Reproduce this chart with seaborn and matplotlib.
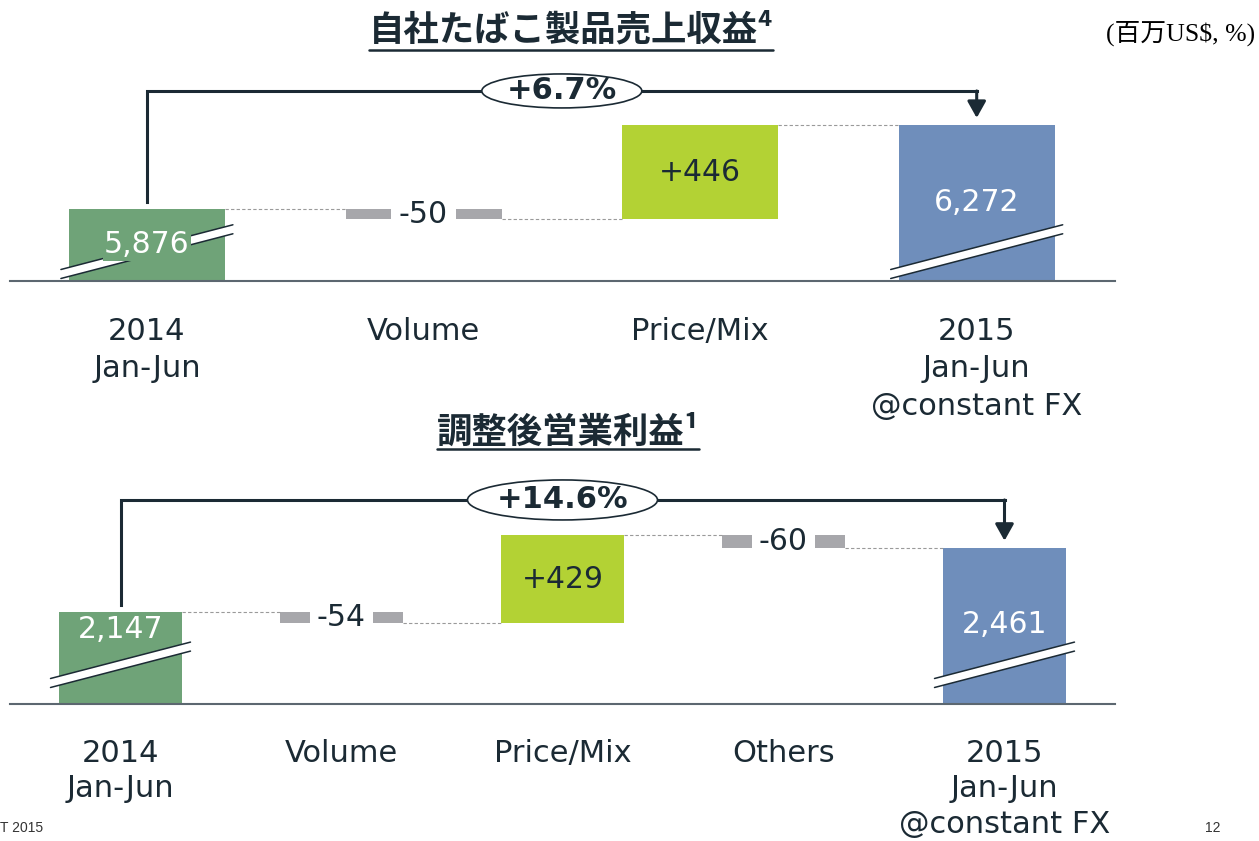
import matplotlib
matplotlib.use('Agg')
import matplotlib.pyplot as plt
from matplotlib.patches import Ellipse, Polygon
from matplotlib.lines import Line2D
import seaborn as sns

# top chart: own tobacco product revenue
top_title = '自社たばこ製品売上収益⁴'
top_categories = ['2014\nJan-Jun', 'Volume', 'Price/Mix', '2015\nJan-Jun\n@constant FX']
top_values = [5876, -50, 446, 6272]
top_kinds = ['total', 'delta', 'delta', 'total']
top_growth = '+6.7%'

# bottom chart: adjusted operating profit
bottom_title = '調整後営業利益¹'
bottom_categories = ['2014\nJan-Jun', 'Volume', 'Price/Mix', 'Others', '2015\nJan-Jun\n@constant FX']
bottom_values = [2147, -54, 429, -60, 2461]
bottom_kinds = ['total', 'delta', 'delta', 'delta', 'total']
bottom_growth = '+14.6%'

unit_label = '(百万US$, %)'
footer_left = 'T 2015'
page_no = '12'

START = '#6fa378'
END = '#6f8ebb'
UP = '#b3d234'
DOWN = '#a7a7ab'
DARK = '#1b2a34'

W, H = 1259, 841
sns.set_style('white')
plt.rcParams['font.family'] = ['DejaVu Sans', 'Noto Sans CJK JP']

fig = plt.figure(figsize=(W / 100, H / 100), dpi=100)


def px_box(left, top, right, bottom):
    return [left / W, 1 - bottom / H, (right - left) / W, (bottom - top) / H]


def draw_break(ax, xc, bar_w, base, sx, sy, lift_px):
    # slanted white band with dark edges, marks the broken axis
    ext = 8 / sx
    x1, x2 = xc - bar_w / 2 - ext, xc + bar_w / 2 + ext
    yl = base + lift_px / sy
    yr = yl + (x2 - x1) * sx * 0.26 / sy
    h = 4.5 / sy
    ax.add_patch(Polygon([(x1, yl - h), (x2, yr - h), (x2, yr + h), (x1, yl + h)],
                         closed=True, facecolor='white', edgecolor='none', zorder=3, clip_on=False))
    for s in (-h, h):
        ax.plot([x1, x2], [yl + s, yr + s], color=DARK, lw=1.1, zorder=3, clip_on=False)


def draw_waterfall(ax, cats, values, kinds, growth, base, top, xlim, bar_w,
                   arrow_frac, ell_px, label_drop_px, lift_px, tick_pad, tick_ls):
    n = len(values)
    bottoms, heights, levels, colors = [], [], [], []
    level = 0
    for i, (v, k) in enumerate(zip(values, kinds)):
        if k == 'total':
            bottoms.append(base)
            heights.append(v - base)
            level = v
            colors.append(START if i == 0 else END)
        else:
            bottoms.append(min(level, level + v))
            heights.append(abs(v))
            level += v
            colors.append(UP if v > 0 else DOWN)
        levels.append(level)

    sns.barplot(x=cats, y=heights, bottom=bottoms, order=cats, color=UP, saturation=1,
                width=bar_w, errorbar=None, linewidth=0, ax=ax)
    for p, c in zip(ax.patches, colors):
        p.set_facecolor(c)

    ax.set_xlim(*xlim)
    ax.set_ylim(base, top)
    ax.set_yticks([])
    ax.set_xlabel('')
    ax.set_ylabel('')
    sns.despine(ax=ax, left=True)
    ax.spines['bottom'].set_color('#5c6770')
    ax.spines['bottom'].set_linewidth(1.5)
    ax.tick_params(axis='x', length=0, pad=tick_pad, labelsize=22, labelcolor=DARK)
    for t in ax.get_xticklabels():
        t.set_linespacing(tick_ls)

    sx = ax.bbox.width / (xlim[1] - xlim[0])
    sy = ax.bbox.height / (top - base)

    # dashed connectors
    for i in range(n - 1):
        ax.plot([i + bar_w / 2, i + 1 - bar_w / 2], [levels[i], levels[i]],
                ls=(0, (3, 2)), color='#9a9a9a', lw=0.8, zorder=1)

    # value labels
    drops = iter(label_drop_px)
    for i, (v, k) in enumerate(zip(values, kinds)):
        if k == 'total':
            y = v - next(drops) / sy
            ax.text(i, y, f'{v:,}', ha='center', va='center', fontsize=21.5, color='white', zorder=6,
                    bbox=dict(boxstyle='square,pad=0.05', fc=colors[i], ec='none'))
            draw_break(ax, i, bar_w, base, sx, sy, lift_px)
        else:
            y = bottoms[i] + heights[i] / 2
            if v < 0:
                ax.text(i, y, f'{v:+,}', ha='center', va='center', fontsize=21.5, color=DARK, zorder=6,
                        bbox=dict(boxstyle='square,pad=0.25', fc='white', ec='none'))
            else:
                ax.text(i, y, f'{v:+,}', ha='center', va='center', fontsize=21.5, color=DARK, zorder=6)

    # growth bracket
    y_lvl = base + arrow_frac * (top - base)
    gap = 7 / sy
    ax.plot([0, 0, n - 1], [values[0] + gap, y_lvl, y_lvl], color=DARK, lw=2.2,
            solid_capstyle='projecting', solid_joinstyle='miter', zorder=4, clip_on=False)
    ax.annotate('', xy=(n - 1, values[-1] + gap), xytext=(n - 1, y_lvl),
                arrowprops=dict(arrowstyle='-|>,head_length=0.5,head_width=0.28', color=DARK,
                                lw=2.2, shrinkA=0, shrinkB=0, mutation_scale=20), zorder=4)
    xm = (n - 1) / 2
    ax.add_patch(Ellipse((xm, y_lvl), ell_px[0] / sx, ell_px[1] / sy, facecolor='white',
                         edgecolor=DARK, lw=1.2, zorder=5, clip_on=False))
    ax.text(xm, y_lvl, growth, ha='center', va='center', fontsize=22, weight='bold',
            color=DARK, zorder=6)


ax_top = fig.add_axes(px_box(10, 60, 1115, 281))
draw_waterfall(ax_top, top_categories, top_values, top_kinds, top_growth,
               base=5536, top=6578, xlim=(-0.495, 3.5), bar_w=0.564,
               arrow_frac=0.86, ell_px=(160, 34), label_drop_px=[36, 78], lift_px=7,
               tick_pad=26, tick_ls=1.36)

ax_bot = fig.add_axes(px_box(10, 470, 1115, 704))
draw_waterfall(ax_bot, bottom_categories, bottom_values, bottom_kinds, bottom_growth,
               base=1697, top=2841, xlim=(-0.5, 4.5), bar_w=0.561,
               arrow_frac=0.872, ell_px=(190, 40), label_drop_px=[18, 77], lift_px=21,
               tick_pad=25, tick_ls=1.29)

# titles with underline
cjk = ['Noto Sans CJK JP', 'DejaVu Sans']
t1 = fig.text(571 / W, 1 - 30 / H, top_title, ha='center', va='center', fontsize=25.5,
              weight='bold', family=cjk, color=DARK)
t2 = fig.text(568 / W, 1 - 432 / H, bottom_title, ha='center', va='center', fontsize=25.5,
              weight='bold', family=cjk, color=DARK)
fig.canvas.draw()
for t, y in ((t1, 50), (t2, 449)):
    bb = t.get_window_extent()
    fig.add_artist(Line2D([bb.x0 / W, bb.x1 / W], [1 - y / H, 1 - y / H],
                          transform=fig.transFigure, color=DARK, lw=1.8))

fig.text(1255 / W, 1 - 33 / H, unit_label, ha='right', va='center', fontsize=18.5,
         family=['Liberation Serif', 'Noto Sans CJK JP'], color='black')
fig.text(0, 1 - 828 / H, footer_left, ha='left', va='center', fontsize=10,
         family='Liberation Sans', color='#333333')
fig.text(1213 / W, 1 - 828 / H, page_no, ha='center', va='center', fontsize=10,
         family='Liberation Sans', color='#333333')

fig.savefig('out.png', dpi=100)
